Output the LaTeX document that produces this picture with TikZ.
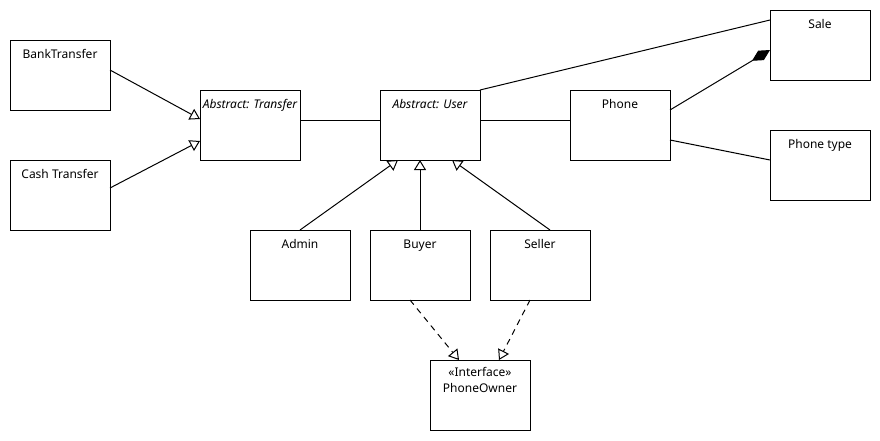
\documentclass[tikz,border=0pt]{standalone}
\usepackage{fontspec}
\setmainfont{Noto Sans}
\usetikzlibrary{arrows.meta,calc}
\begin{document}
\begin{tikzpicture}[x=1pt,y=-1pt,
  box/.style={draw,line width=1pt,minimum width=100pt,minimum height=70pt,anchor=north west,inner sep=0pt,outer sep=0pt},
  ttl/.style={anchor=base,yshift=-18pt,inner sep=0pt,font=\fontsize{12}{14}\selectfont},
  conn/.style={line width=1pt},
  gen/.style={conn,-{Triangle[open,length=10pt,width=12pt]}},
  realz/.style={gen,dash pattern=on 6pt off 5pt},
  comp/.style={conn,-{Diamond[length=21pt,width=11pt]}}
]
\useasboundingbox (0,0) rectangle (880,440);
\node[box,label={[ttl]north:BankTransfer}] (bank) at (10,40) {};
\node[box,label={[ttl]north:Cash Transfer}] (cash) at (10,160) {};
\node[box,label={[ttl]north:\itshape Abstract: Transfer}] (transfer) at (200,90) {};
\node[box,label={[ttl]north:\itshape Abstract: User}] (user) at (380,90) {};
\node[box,label={[ttl]north:Phone}] (phone) at (570,90) {};
\node[box,label={[ttl]north:Sale}] (sale) at (770,10) {};
\node[box,label={[ttl]north:Phone type}] (ptype) at (770,130) {};
\node[box,label={[ttl]north:Admin}] (admin) at (250,230) {};
\node[box,label={[ttl]north:Buyer}] (buyer) at (370,230) {};
\node[box,label={[ttl]north:Seller}] (seller) at (490,230) {};
\node[box,label={[ttl,yshift=2pt]north:«Interface»},label={[ttl,yshift=-14pt]north:PhoneOwner}] (owner) at (430,360) {};

\draw[gen] ($(bank.north east)+(0,30)$) -- ($(transfer.north west)+(0,29)$);
\draw[gen] ($(cash.north east)+(0,28)$) -- ($(transfer.north west)+(0,51)$);
\draw[conn] ($(transfer.north east)+(0,30)$) -- ($(user.north west)+(0,30)$);
\draw[conn] (user.north east) -- ($(sale.north west)+(0,10)$);
\draw[conn] ($(user.north east)+(0,30)$) -- ($(phone.north west)+(0,30)$);
\draw[comp] ($(phone.north east)+(0,20)$) -- ($(sale.north west)+(0,40)$);
\draw[conn] ($(phone.north east)+(0,50)$) -- ($(ptype.north west)+(0,30)$);
\draw[gen] (admin.north) -- ($(user.south west)+(18,0)$);
\draw[gen] ($(buyer.north west)+(50,0)$) -- ($(user.south west)+(40,0)$);
\draw[gen] ($(seller.north west)+(60,0)$) -- ($(user.south west)+(72,0)$);
\draw[realz] ($(buyer.south west)+(40,0)$) -- ($(owner.north west)+(29,0)$);
\draw[realz] ($(seller.south west)+(40,0)$) -- ($(owner.north west)+(69,0)$);
\end{tikzpicture}
\end{document}
